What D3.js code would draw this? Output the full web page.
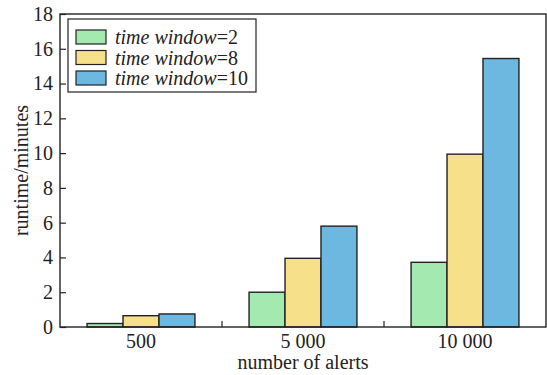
<!DOCTYPE html>
<html>
<head>
<meta charset="utf-8">
<script src="https://cdn.jsdelivr.net/npm/d3@7"></script>
<style>
body { margin: 0; background: #fff; }
text { font-family: "Liberation Serif", "Times New Roman", serif; fill: #222; }
</style>
</head>
<body>
<div class="graph"></div>
<script>
// categories and series
var categories = ["500", "5 000", "10 000"];
var seriesNames = ["2", "8", "10"];
var tw2 = [0.2, 2.0, 3.72];
var tw8 = [0.65, 3.95, 9.94];
var tw10 = [0.75, 5.8, 15.44];
var yTicks = [0, 2, 4, 6, 8, 10, 12, 14, 16, 18];
var colors = ["#a3e9b0", "#f7e08a", "#6cb8e0"];

var W = 547, H = 375;
var margin = {top: 14, right: 1, bottom: 48, left: 60};
var pw = W - margin.left - margin.right, ph = H - margin.top - margin.bottom;

var svg = d3.select(".graph").append("svg")
	.attr("width", W).attr("height", H);
var g = svg.append("g").attr("transform", "translate(" + margin.left + "," + margin.top + ")");

var x = d3.scaleBand().domain(categories).range([0, pw]).padding(0);
var xs = d3.scaleBand().domain(seriesNames).range([x.bandwidth() * 0.167, x.bandwidth() * 0.833]).padding(0);
var y = d3.scaleLinear().domain([0, 18]).range([ph, 0]);

var allSeries = [tw2, tw8, tw10];

// bars
allSeries.forEach(function(vals, s){
	g.selectAll(".bar" + s).data(vals).enter().append("rect")
		.attr("x", function(d, i){ return x(categories[i]) + xs(seriesNames[s]); })
		.attr("y", function(d){ return y(d); })
		.attr("width", xs.bandwidth())
		.attr("height", function(d){ return ph - y(d); })
		.attr("fill", colors[s])
		.attr("stroke", "#222")
		.attr("stroke-width", 1.4);
});

// frame
g.append("rect").attr("x", 0).attr("y", 0).attr("width", pw).attr("height", ph)
	.attr("fill", "none").attr("stroke", "#222").attr("stroke-width", 1.4);

// y axis
var yAxis = d3.axisLeft(y).tickValues(yTicks).tickSize(-6).tickPadding(7);
var ya = g.append("g").call(yAxis);
ya.select(".domain").remove();
ya.selectAll("line").attr("stroke", "#222").attr("stroke-width", 1.2);
ya.selectAll("text").style("font-size", "20px").attr("fill", "#222");

// x axis: labels at band centers, ticks at boundaries
var xa = g.append("g").attr("transform", "translate(0," + ph + ")");
categories.forEach(function(c, i){
	xa.append("text").attr("x", x(c) + x.bandwidth() / 2).attr("y", 21)
		.attr("text-anchor", "middle").style("font-size", "20px").text(c);
	if (i > 0) {
		xa.append("line").attr("x1", x(c)).attr("x2", x(c)).attr("y1", 0).attr("y2", -6)
			.attr("stroke", "#222").attr("stroke-width", 1.2);
	}
});

// axis titles
svg.append("text").attr("x", margin.left + pw / 2).attr("y", 369)
	.attr("text-anchor", "middle").style("font-size", "20px").text("number of alerts");
svg.append("text").attr("transform", "translate(28," + (margin.top + ph / 2) + ") rotate(-90)")
	.attr("text-anchor", "middle").style("font-size", "20px").text("runtime/minutes");

// legend
var lg = svg.append("g").attr("transform", "translate(68,19)");
lg.append("rect").attr("width", 188).attr("height", 73)
	.attr("fill", "#fff").attr("stroke", "#222").attr("stroke-width", 1.2);
seriesNames.forEach(function(n, i){
	var row = lg.append("g").attr("transform", "translate(8," + (11 + i * 20.5) + ")");
	row.append("rect").attr("width", 30).attr("height", 14)
		.attr("fill", colors[i]).attr("stroke", "#222").attr("stroke-width", 1.2);
	var t = row.append("text").attr("x", 39).attr("y", 14).style("font-size", "20px");
	t.append("tspan").style("font-style", "italic").text("time window");
	t.append("tspan").text("=" + n);
});
</script>
</body>
</html>
